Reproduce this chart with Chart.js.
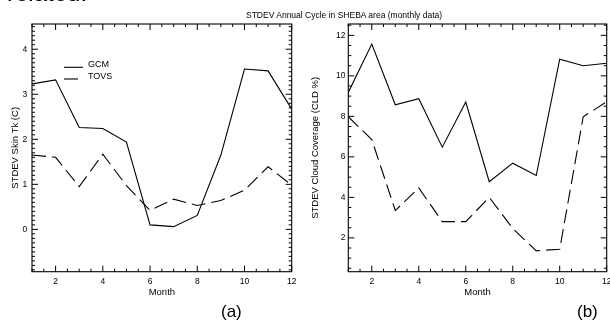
<!DOCTYPE html>
<html><head><meta charset="utf-8">
<script src="https://cdn.jsdelivr.net/npm/chart.js@4.4.1/dist/chart.umd.min.js"></script>
<style>
html,body{margin:0;padding:0;background:#fff;width:610px;height:324px;overflow:hidden;position:relative;font-family:"Liberation Sans",Arial,sans-serif;}
canvas{position:absolute;top:0;}
#cL{left:0;}
#cR{left:305px;}
.t{position:absolute;white-space:nowrap;color:#000;line-height:1;z-index:2;}
</style></head><body>
<canvas id="cL" width="305" height="324"></canvas>
<canvas id="cR" width="305" height="324"></canvas>
<div class="t" style="left:7px;top:-19px;font-size:24px;">related.</div>
<div class="t" id="ttl" style="left:246px;top:11px;font-size:8.5px;">STDEV Annual Cycle in SHEBA area (monthly data)</div>
<div class="t" style="left:221px;top:303px;font-size:17px;">(a)</div>
<div class="t" style="left:577px;top:303px;font-size:17px;">(b)</div>
<script>
// ---- data ----
const months = [1,2,3,4,5,6,7,8,9,10,11,12];
const gcmSkin  = [3.23,3.32,2.26,2.24,1.94,0.10,0.06,0.31,1.65,3.56,3.52,2.67];
const tovsSkin = [1.65,1.60,0.95,1.67,0.97,0.42,0.67,0.53,0.64,0.87,1.39,0.98];
const gcmCld   = [9.18,11.57,8.57,8.87,6.48,8.71,4.77,5.69,5.08,10.82,10.50,10.62];
const tovsCld  = [7.98,6.85,3.35,4.47,2.80,2.80,4.00,2.47,1.36,1.44,7.98,8.72];
const monthTicks = [2,4,6,8,10,12];
const skinTicks  = [0,1,2,3,4];
const cldTicks   = [2,4,6,8,10,12];
const seriesNames = ['GCM','TOVS'];

const FONT = '"Liberation Sans", Arial, sans-serif';
Chart.defaults.font.family = FONT;
Chart.defaults.color = '#000';

const pts = (vals) => months.map((m,i)=>({x:m,y:vals[i]}));

// frame with inward IDL-style ticks on all four sides
const framePlugin = {
  id:'frame',
  afterDatasetsDraw(chart, args, o){
    const {ctx, chartArea:a, scales:{x,y}} = chart;
    ctx.save();
    ctx.strokeStyle='#000'; ctx.lineWidth=1.1;
    ctx.strokeRect(a.left, a.top, a.right-a.left, a.bottom-a.top);
    ctx.lineWidth=1;
    const marks=(scale, minor, major, fn)=>{
      const k0=Math.ceil(scale.min/minor-1e-6), k1=Math.floor(scale.max/minor+1e-6);
      for(let k=k0;k<=k1;k++){
        const v=k*minor; const r=v/major;
        const isMaj=Math.abs(r-Math.round(r))<1e-6;
        fn(scale.getPixelForValue(v), isMaj?o.major:o.minor);
      }
    };
    ctx.beginPath();
    marks(x, o.xMinor, o.xMajor, (p,l)=>{
      ctx.moveTo(p,a.bottom); ctx.lineTo(p,a.bottom-l);
      ctx.moveTo(p,a.top); ctx.lineTo(p,a.top+l);
    });
    marks(y, o.yMinor, o.yMajor, (p,l)=>{
      ctx.moveTo(a.left,p); ctx.lineTo(a.left+l,p);
      ctx.moveTo(a.right,p); ctx.lineTo(a.right-l,p);
    });
    ctx.stroke();
    ctx.restore();
  }
};

// simple line-sample legend inside the plot
const lineLegend = {
  id:'lineLegend',
  afterDraw(chart, args, o){
    if(!o.show) return;
    const {ctx, chartArea:a} = chart;
    ctx.save();
    chart.data.datasets.forEach((ds,i)=>{
      const yy=a.top+o.y+i*o.dy, x0=a.left+o.x;
      ctx.beginPath();
      ctx.setLineDash(ds.borderDash||[]);
      ctx.strokeStyle='#000'; ctx.lineWidth=ds.borderWidth;
      ctx.moveTo(x0,yy); ctx.lineTo(x0+o.len,yy); ctx.stroke();
      ctx.setLineDash([]);
      ctx.fillStyle='#000'; ctx.font='9px '+FONT;
      ctx.textBaseline='middle'; ctx.textAlign='left';
      ctx.fillText(ds.label, x0+o.len+o.gap, yy-2.5);
    });
    ctx.restore();
  }
};

function makeChart(id, gcm, tovs, yMin, yMax, yTicks, yTitle, geo, frameOpts, showLegend){
  return new Chart(document.getElementById(id), {
    type:'line',
    data:{datasets:[
      {label:seriesNames[0], data:pts(gcm), borderColor:'#000', borderWidth:1.1, pointRadius:0, tension:0, fill:false},
      {label:seriesNames[1], data:pts(tovs), borderColor:'#000', borderWidth:1.1, borderDash:[14,6], pointRadius:0, tension:0, fill:false}
    ]},
    options:{
      responsive:false, animation:false, events:[],
      layout:{padding:{top:24,left:0,right:geo.padRight,bottom:0}},
      plugins:{legend:{display:false}, tooltip:{enabled:false},
        frame:frameOpts,
        lineLegend:{show:showLegend, x:32, y:43.3, dy:11.7, len:19, gap:5}},
      scales:{
        x:{type:'linear', min:1, max:12,
          grid:{display:false, drawTicks:false}, border:{display:false},
          afterBuildTicks:s=>{s.ticks=monthTicks.map(v=>({value:v}));},
          ticks:{padding:4.9, font:{size:8.5}, maxRotation:0, autoSkip:false, color:'#000'},
          title:{display:true, text:'Month', font:{size:9.5}, color:'#000', padding:{top:0,bottom:25.6}},
          afterFit:s=>{s.height=52.3; s.paddingLeft=0; s.paddingRight=0;}
        },
        y:{type:'linear', min:yMin, max:yMax,
          grid:{display:false, drawTicks:false}, border:{display:false},
          afterBuildTicks:s=>{s.ticks=yTicks.map(v=>({value:v}));},
          ticks:{padding:geo.yTickPad, font:{size:8.5}, color:'#000'},
          title:{display:true, text:yTitle, font:{size:9.5}, color:'#000', padding:{top:geo.yTitlePad,bottom:0}},
          afterFit:s=>{s.width=geo.yWidth; s.paddingTop=0; s.paddingBottom=0;}
        }
      }
    },
    plugins:[framePlugin, lineLegend]
  });
}

makeChart('cL', gcmSkin, tovsSkin, -0.94, 4.56, skinTicks, 'STDEV Skin Tk (C)',
  {padRight:13.3, yWidth:32, yTickPad:4.7, yTitlePad:9.3},
  {xMinor:0.5, xMajor:2, yMinor:0.1, yMajor:1, major:6, minor:3}, true);
makeChart('cR', gcmCld, tovsCld, 0.33, 12.56, cldTicks, 'STDEV Cloud Coverage (CLD %)',
  {padRight:3.3, yWidth:43.3, yTickPad:2.8, yTitlePad:4.8},
  {xMinor:0.5, xMajor:2, yMinor:0.5, yMajor:2, major:6, minor:3}, false);
</script>
</body></html>
